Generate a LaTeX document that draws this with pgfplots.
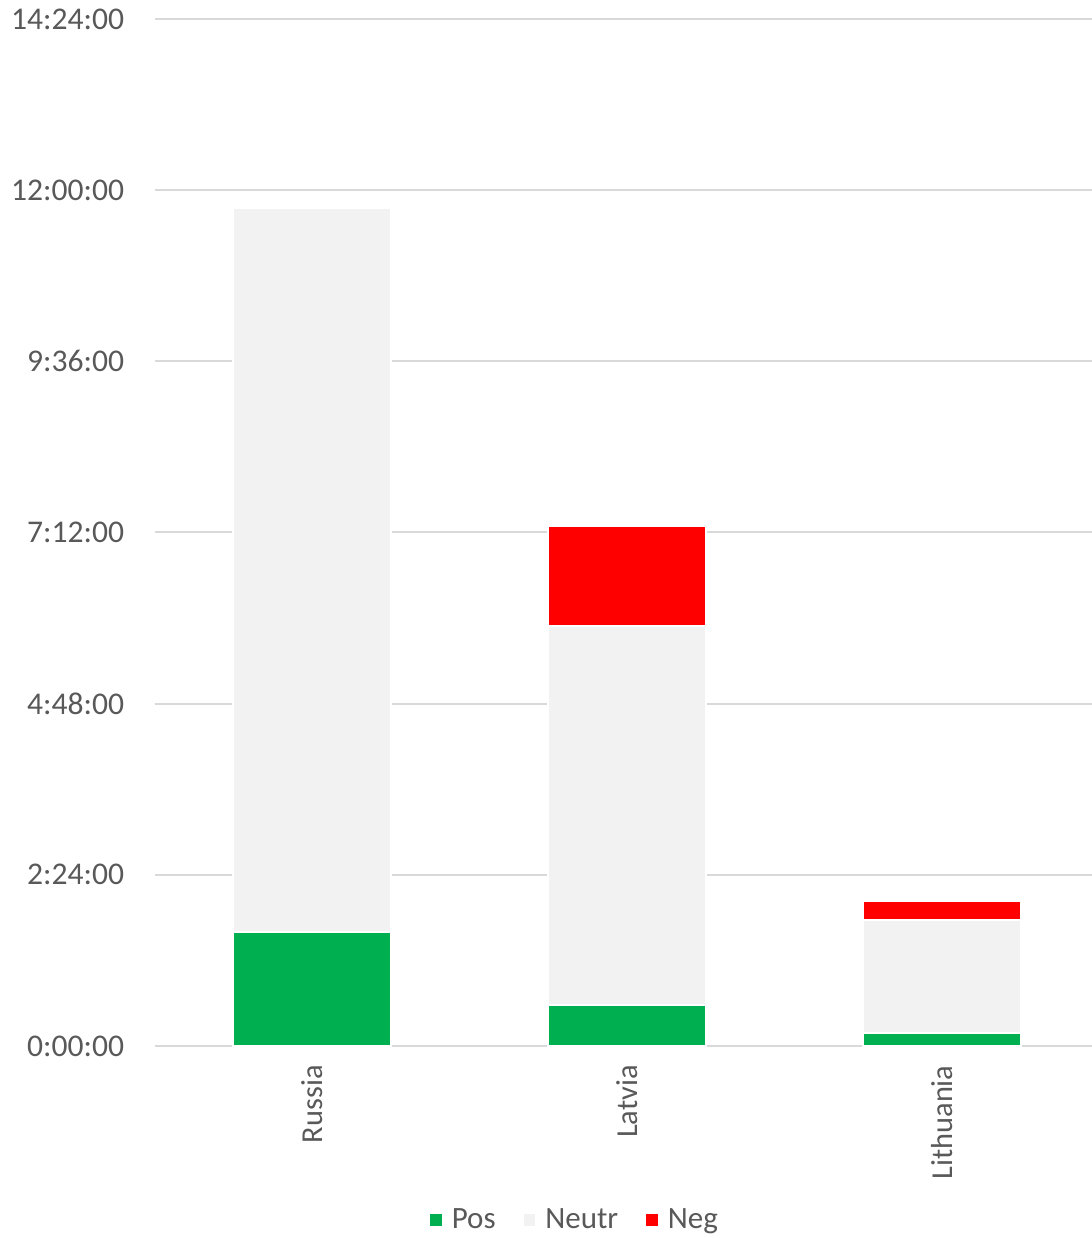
\documentclass[border=0pt]{standalone}
\usepackage{pgfplots}
\pgfplotsset{compat=1.18}
\usepackage{fontspec}
\setmainfont{Carlito}
\definecolor{posc}{HTML}{00B050}
\definecolor{neuc}{HTML}{F2F2F2}
\definecolor{negc}{HTML}{FF0000}
\definecolor{gridc}{HTML}{D9D9D9}
\definecolor{txtc}{HTML}{595959}
\begin{document}
\begin{tikzpicture}
\path[use as bounding box] (0,0) rectangle (546pt,619pt);
\begin{axis}[
  at={(77.25pt,96pt)}, anchor=south west,
  scale only axis, width=472.5pt, height=513.5pt,
  ybar stacked, bar width=79pt,
  xmin=-0.5, xmax=2.5, ymin=0, ymax=14.4,
  xtick={0,1,2}, xticklabels={Russia,Latvia,Lithuania},
  ytick={0,2.4,4.8,7.2,9.6,12,14.4},
  yticklabels={0:00:00,2:24:00,4:48:00,7:12:00,9:36:00,12:00:00,14:24:00},
  axis line style={draw=none},
  major tick length=0pt,
  ymajorgrids, grid style={gridc, line width=1pt},
  tick label style={font=\fontsize{15.8}{19}\selectfont, text=txtc},
  xticklabel style={font=\fontsize{15.2}{18}\selectfont},
  yticklabel style={inner sep=0pt, anchor=east, xshift=-15pt},
  xticklabel style={inner sep=0pt, yshift=-9.5pt, rotate=90, anchor=east},
  legend style={at={(0.445,0)}, anchor=center, yshift=-87pt, draw=none, fill=none,
    legend columns=3, font=\fontsize{15.5}{19}\selectfont, text=txtc,
    /tikz/every odd column/.append style={column sep=2pt},
    /tikz/every even column/.append style={column sep=11pt}},
  legend image code/.code={\fill[#1] (0pt,-3.4pt) rectangle (6.8pt,3.4pt);},
]
\addplot[fill=posc, draw=white, line width=1pt] coordinates {(0,1.60) (1,0.575) (2,0.18)};
\addplot[fill=neuc, draw=white, line width=1pt] coordinates {(0,10.15) (1,5.31) (2,1.59)};
\addplot[fill=negc, draw=white, line width=1pt] coordinates {(0,0) (1,1.40) (2,0.26)};
\legend{Pos,Neutr,Neg}
\end{axis}
\end{tikzpicture}
\end{document}
